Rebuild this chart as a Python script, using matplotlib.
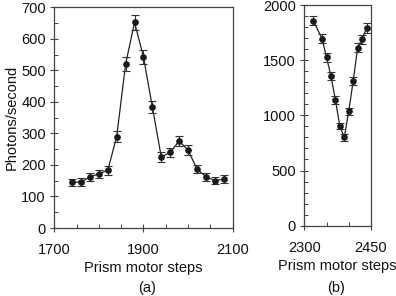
import matplotlib.pyplot as plt
from matplotlib.ticker import MultipleLocator, FixedLocator

plt.rcParams["font.family"] = ["Liberation Sans", "DejaVu Sans"]

# panel (a)
steps_a = [1740, 1760, 1780, 1800, 1820, 1840, 1860, 1880, 1900,
           1920, 1940, 1960, 1980, 2000, 2020, 2040, 2060, 2080]
rate_a = [145, 146, 162, 172, 183, 290, 520, 652, 543,
          384, 225, 240, 276, 247, 187, 163, 150, 155]
err_a = [12, 12, 13, 13, 14, 17, 22, 24, 23,
         20, 15, 15, 16, 16, 14, 13, 12, 12]

# panel (b)
steps_b = [2320, 2340, 2350, 2360, 2370, 2380, 2390, 2400, 2410, 2420, 2430, 2440]
rate_b = [1858, 1695, 1526, 1356, 1139, 903, 800, 1039, 1311, 1613, 1689, 1792]
err_b = [43, 41, 39, 37, 34, 30, 28, 32, 36, 40, 41, 42]

fig = plt.figure(figsize=(3.96, 2.96), dpi=100)
ax_a = fig.add_axes([0.137, 0.2297, 0.4505, 0.7456])
ax_b = fig.add_axes([0.7684, 0.2375, 0.1684, 0.7456])

dark = "#1a1a1a"
fs = 10.5
for ax, x, y, e in [(ax_a, steps_a, rate_a, err_a), (ax_b, steps_b, rate_b, err_b)]:
    ax.plot(x, y, color="#222222", lw=0.9, zorder=2)
    ax.errorbar(x, y, yerr=e, fmt="o", color=dark, ms=3.8, ecolor="#333333",
                elinewidth=0.8, capsize=2.6, capthick=0.8, zorder=3)
    for sp in ax.spines.values():
        sp.set_color("#444444")
        sp.set_linewidth(0.9)
    ax.tick_params(which="major", direction="inout", length=6, width=0.8,
                   color="#444444", labelsize=fs, labelcolor="#111111")
    ax.tick_params(which="minor", direction="in", length=3, width=0.7,
                   color="#444444")
    ax.tick_params(axis="x", which="major", pad=8)
    ax.tick_params(axis="y", which="major", pad=3)
    ax.set_xlabel("Prism motor steps", fontsize=fs, color="#111111", labelpad=3)

ax_a.set_xlim(1700, 2100)
ax_a.set_ylim(0, 700)
ax_a.xaxis.set_major_locator(FixedLocator([1700, 1900, 2100]))
ax_a.xaxis.set_minor_locator(MultipleLocator(50))
ax_a.yaxis.set_major_locator(MultipleLocator(100))
ax_a.yaxis.set_minor_locator(MultipleLocator(50))
ax_a.set_ylabel("Photons/second", fontsize=fs, color="#111111", labelpad=2)

ax_b.set_xlim(2300, 2450)
ax_b.set_ylim(0, 2000)
ax_b.xaxis.set_major_locator(FixedLocator([2300, 2450]))
ax_b.xaxis.set_minor_locator(MultipleLocator(50))
ax_b.yaxis.set_major_locator(MultipleLocator(500))
ax_b.yaxis.set_minor_locator(MultipleLocator(100))

fig.text(0.372, 0.004, "(a)", ha="center", va="bottom", fontsize=fs,
         color="#111111")
fig.text(0.849, 0.004, "(b)", ha="center", va="bottom", fontsize=fs,
         color="#111111")

fig.savefig("out.png", dpi=100)
